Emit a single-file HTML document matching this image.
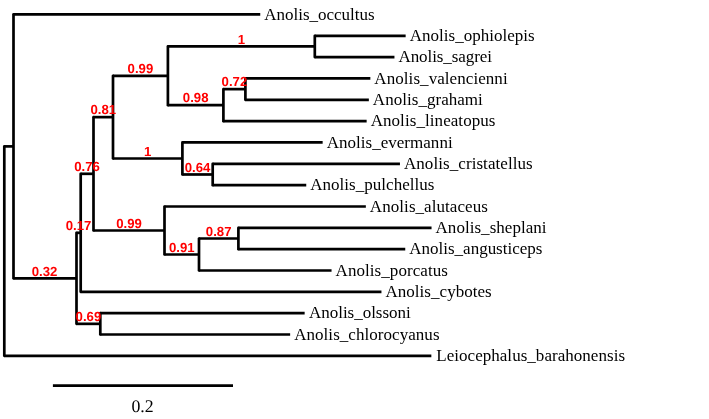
<!DOCTYPE html>
<html><head><meta charset="utf-8"><title>tree</title>
<style>html,body{margin:0;padding:0;background:#fff}svg{display:block;will-change:transform}
.t{font-family:"Liberation Serif",serif;font-size:17px;fill:#000}
.r{font-family:"Liberation Sans",sans-serif;font-weight:bold;text-rendering:geometricPrecision;font-size:13.2px;fill:#f00;text-anchor:middle}
.s{font-family:"Liberation Serif",serif;font-size:17.8px;text-rendering:geometricPrecision;fill:#000;text-anchor:middle}
line{stroke:#000;stroke-width:2.7;stroke-linecap:round}
</style></head><body>
<svg width="709" height="419" viewBox="0 0 709 419">
<rect width="709" height="419" fill="#fff"/>
<line x1="13.50" y1="14.45" x2="260.25" y2="14.45" style="stroke-linecap:butt"/>
<line x1="314.80" y1="35.79" x2="405.65" y2="35.79" style="stroke-linecap:butt"/>
<line x1="314.80" y1="57.12" x2="394.45" y2="57.12" style="stroke-linecap:butt"/>
<line x1="314.80" y1="35.79" x2="314.80" y2="57.12"/>
<line x1="167.90" y1="46.46" x2="314.80" y2="46.46" style="stroke-linecap:butt"/>
<line x1="245.40" y1="78.46" x2="370.35" y2="78.46" style="stroke-linecap:butt"/>
<line x1="245.40" y1="99.80" x2="368.85" y2="99.80" style="stroke-linecap:butt"/>
<line x1="245.40" y1="78.46" x2="245.40" y2="99.80"/>
<line x1="223.40" y1="89.13" x2="245.40" y2="89.13" style="stroke-linecap:butt"/>
<line x1="223.40" y1="121.14" x2="366.65" y2="121.14" style="stroke-linecap:butt"/>
<line x1="223.40" y1="89.13" x2="223.40" y2="121.14"/>
<line x1="167.90" y1="105.13" x2="223.40" y2="105.13" style="stroke-linecap:butt"/>
<line x1="167.90" y1="46.46" x2="167.90" y2="105.13"/>
<line x1="113.00" y1="75.80" x2="167.90" y2="75.80" style="stroke-linecap:butt"/>
<line x1="182.40" y1="142.47" x2="322.65" y2="142.47" style="stroke-linecap:butt"/>
<line x1="212.70" y1="163.81" x2="399.95" y2="163.81" style="stroke-linecap:butt"/>
<line x1="212.70" y1="185.15" x2="306.25" y2="185.15" style="stroke-linecap:butt"/>
<line x1="212.70" y1="163.81" x2="212.70" y2="185.15"/>
<line x1="182.40" y1="174.48" x2="212.70" y2="174.48" style="stroke-linecap:butt"/>
<line x1="182.40" y1="142.47" x2="182.40" y2="174.48"/>
<line x1="113.00" y1="158.48" x2="182.40" y2="158.48" style="stroke-linecap:butt"/>
<line x1="113.00" y1="75.80" x2="113.00" y2="158.48"/>
<line x1="93.50" y1="117.14" x2="113.00" y2="117.14" style="stroke-linecap:butt"/>
<line x1="164.50" y1="206.49" x2="365.85" y2="206.49" style="stroke-linecap:butt"/>
<line x1="238.40" y1="227.83" x2="431.55" y2="227.83" style="stroke-linecap:butt"/>
<line x1="238.40" y1="249.16" x2="405.25" y2="249.16" style="stroke-linecap:butt"/>
<line x1="238.40" y1="227.83" x2="238.40" y2="249.16"/>
<line x1="199.00" y1="238.49" x2="238.40" y2="238.49" style="stroke-linecap:butt"/>
<line x1="199.00" y1="270.50" x2="331.55" y2="270.50" style="stroke-linecap:butt"/>
<line x1="199.00" y1="238.49" x2="199.00" y2="270.50"/>
<line x1="164.50" y1="254.50" x2="199.00" y2="254.50" style="stroke-linecap:butt"/>
<line x1="164.50" y1="206.49" x2="164.50" y2="254.50"/>
<line x1="93.50" y1="230.49" x2="164.50" y2="230.49" style="stroke-linecap:butt"/>
<line x1="93.50" y1="117.14" x2="93.50" y2="230.49"/>
<line x1="80.70" y1="173.81" x2="93.50" y2="173.81" style="stroke-linecap:butt"/>
<line x1="80.70" y1="291.84" x2="381.45" y2="291.84" style="stroke-linecap:butt"/>
<line x1="80.70" y1="173.81" x2="80.70" y2="291.84"/>
<line x1="76.50" y1="232.83" x2="80.70" y2="232.83" style="stroke-linecap:butt"/>
<line x1="100.30" y1="313.18" x2="304.65" y2="313.18" style="stroke-linecap:butt"/>
<line x1="100.30" y1="334.51" x2="290.15" y2="334.51" style="stroke-linecap:butt"/>
<line x1="100.30" y1="313.18" x2="100.30" y2="334.51"/>
<line x1="76.50" y1="323.84" x2="100.30" y2="323.84" style="stroke-linecap:butt"/>
<line x1="76.50" y1="232.83" x2="76.50" y2="323.84"/>
<line x1="13.50" y1="278.33" x2="76.50" y2="278.33" style="stroke-linecap:butt"/>
<line x1="13.50" y1="14.45" x2="13.50" y2="278.33"/>
<line x1="4.30" y1="146.39" x2="13.50" y2="146.39" style="stroke-linecap:butt"/>
<line x1="4.30" y1="355.85" x2="431.35" y2="355.85" style="stroke-linecap:butt"/>
<line x1="4.30" y1="146.39" x2="4.30" y2="355.85"/>
<line x1="52.9" y1="385.7" x2="233.0" y2="385.7" style="stroke-linecap:butt"/>
<text class="t" x="264.25" y="19.75" textLength="110.30" lengthAdjust="spacing">Anolis_occultus</text>
<text class="t" x="409.65" y="41.09" textLength="125.07" lengthAdjust="spacing">Anolis_ophiolepis</text>
<text class="t" x="398.45" y="62.42" textLength="93.54" lengthAdjust="spacing">Anolis_sagrei</text>
<text class="t" x="374.35" y="83.76" textLength="133.30" lengthAdjust="spacing">Anolis_valencienni</text>
<text class="t" x="372.85" y="105.10" textLength="109.95" lengthAdjust="spacing">Anolis_grahami</text>
<text class="t" x="370.65" y="126.44" textLength="124.82" lengthAdjust="spacing">Anolis_lineatopus</text>
<text class="t" x="326.65" y="147.78" textLength="125.99" lengthAdjust="spacing">Anolis_evermanni</text>
<text class="t" x="403.95" y="169.11" textLength="128.78" lengthAdjust="spacing">Anolis_cristatellus</text>
<text class="t" x="310.25" y="190.45" textLength="124.12" lengthAdjust="spacing">Anolis_pulchellus</text>
<text class="t" x="369.85" y="211.79" textLength="117.99" lengthAdjust="spacing">Anolis_alutaceus</text>
<text class="t" x="435.55" y="233.13" textLength="111.00" lengthAdjust="spacing">Anolis_sheplani</text>
<text class="t" x="409.25" y="254.46" textLength="133.16" lengthAdjust="spacing">Anolis_angusticeps</text>
<text class="t" x="335.55" y="275.80" textLength="112.34" lengthAdjust="spacing">Anolis_porcatus</text>
<text class="t" x="385.45" y="297.14" textLength="106.28" lengthAdjust="spacing">Anolis_cybotes</text>
<text class="t" x="309.05" y="318.48" textLength="101.63" lengthAdjust="spacing">Anolis_olssoni</text>
<text class="t" x="294.15" y="339.81" textLength="145.38" lengthAdjust="spacing">Anolis_chlorocyanus</text>
<text class="t" x="436.25" y="361.15" textLength="188.79" lengthAdjust="spacing">Leiocephalus_barahonensis</text>
<text class="r" x="241.35" y="44.00">1</text>
<text class="r" x="234.40" y="86.00">0.72</text>
<text class="r" x="195.65" y="102.00">0.98</text>
<text class="r" x="140.45" y="73.00">0.99</text>
<text class="r" x="197.55" y="172.00">0.64</text>
<text class="r" x="147.70" y="156.00">1</text>
<text class="r" x="103.25" y="114.00">0.81</text>
<text class="r" x="218.70" y="236.00">0.87</text>
<text class="r" x="181.75" y="252.00">0.91</text>
<text class="r" x="129.00" y="228.00">0.99</text>
<text class="r" x="87.10" y="171.00">0.76</text>
<text class="r" x="78.60" y="230.00">0.17</text>
<text class="r" x="88.40" y="321.00">0.69</text>
<text class="r" x="44.50" y="276.00">0.32</text>
<text class="s" x="142.5" y="412.3">0.2</text>
</svg>
</body></html>
